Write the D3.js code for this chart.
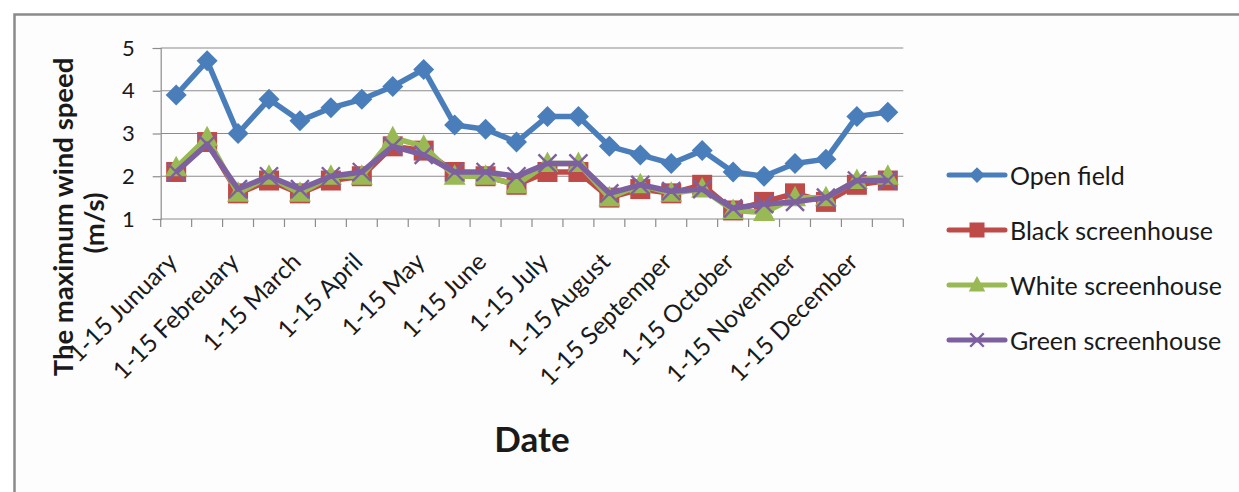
<!DOCTYPE html>
<html>
<head>
<meta charset="utf-8">
<script src="https://cdn.jsdelivr.net/npm/d3@7"></script>
<style>
  html, body { margin: 0; padding: 0; background: #ffffff; }
  svg { display: block; }
  text { font-family: Lato, "Open Sans", sans-serif; fill: #1a1a1a; }
</style>
</head>
<body>
<svg id="chart" width="1239" height="492"></svg>
<script>
// Half-month periods (first and second half of each month)
const categories = [
  "1-15 Junuary", "16-31 Junuary",
  "1-15 Febreuary", "16-28 Febreuary",
  "1-15 March", "16-31 March",
  "1-15 April", "16-30 April",
  "1-15 May", "16-31 May",
  "1-15 June", "16-30 June",
  "1-15 July", "16-31 July",
  "1-15 August", "16-31 August",
  "1-15 Septemper", "16-30 Septemper",
  "1-15 October", "16-31 October",
  "1-15 November", "16-30 November",
  "1-15 December", "16-31 December"
];

// Maximum wind speed (m/s) per period
const openField  = [3.9, 4.7, 3.0, 3.8, 3.3, 3.6, 3.8, 4.1, 4.5, 3.2, 3.1, 2.8, 3.4, 3.4, 2.7, 2.5, 2.3, 2.6, 2.1, 2.0, 2.3, 2.4, 3.4, 3.5];
const blackHouse = [2.1, 2.8, 1.6, 1.9, 1.6, 1.9, 2.0, 2.7, 2.6, 2.1, 2.0, 1.8, 2.1, 2.1, 1.5, 1.7, 1.6, 1.8, 1.2, 1.4, 1.6, 1.4, 1.8, 1.9];
const whiteHouse = [2.2, 2.9, 1.6, 2.0, 1.6, 2.0, 2.0, 2.9, 2.7, 2.0, 2.0, 1.8, 2.3, 2.3, 1.5, 1.8, 1.6, 1.7, 1.2, 1.15, 1.5, 1.5, 1.9, 2.0];
const greenHouse = [2.1, 2.75, 1.7, 2.0, 1.7, 2.0, 2.1, 2.7, 2.5, 2.1, 2.1, 2.0, 2.3, 2.3, 1.6, 1.8, 1.65, 1.7, 1.25, 1.35, 1.4, 1.5, 1.9, 1.9];

const seriesNames = ["Open field", "Black screenhouse", "White screenhouse", "Green screenhouse"];
const yTicks = [1, 2, 3, 4, 5];

const series = [
  { name: seriesNames[0], values: openField,  color: "#4a7ebb", marker: "diamond" },
  { name: seriesNames[1], values: blackHouse, color: "#be4b48", marker: "square" },
  { name: seriesNames[2], values: whiteHouse, color: "#98b954", marker: "triangle" },
  { name: seriesNames[3], values: greenHouse, color: "#7d60a0", marker: "cross" }
];

const svg = d3.select("#chart");

// chart frame
svg.append("rect")
  .attr("x", 14.5).attr("y", 14.5)
  .attr("width", 1300).attr("height", 600)
  .attr("fill", "#fdfdfd")
  .attr("stroke", "#8a8a8a").attr("stroke-width", 2.5);

const plot = { left: 160.7, right: 903.3, top: 48, bottom: 219 };

const x = d3.scaleBand().domain(categories).range([plot.left, plot.right]).padding(0);
const y = d3.scaleLinear().domain([1, 5]).range([plot.bottom, plot.top]);
const cx = c => x(c) + x.bandwidth() / 2;

// horizontal gridlines
svg.append("g").selectAll("line").data(yTicks.slice(1)).join("line")
  .attr("x1", plot.left).attr("x2", plot.right)
  .attr("y1", d => y(d)).attr("y2", d => y(d))
  .attr("stroke", "#8c8c8c").attr("stroke-width", 1.2);

// value axis
const yAxis = svg.append("g")
  .attr("transform", `translate(${plot.left},0)`)
  .call(d3.axisLeft(y).tickValues(yTicks).tickFormat(d3.format("d")).tickSize(8).tickPadding(18));
yAxis.select(".domain").attr("stroke", "#8c8c8c").attr("stroke-width", 1.2);
yAxis.selectAll(".tick line").attr("stroke", "#8c8c8c").attr("stroke-width", 1.2);
yAxis.selectAll(".tick text")
  .attr("font-size", 22).attr("font-family", "Lato, sans-serif").attr("fill", "#1a1a1a");

// category axis with ticks between periods
const edges = categories.map(c => x(c)).concat([x.range()[1]]);
const xAxis = svg.append("g");
xAxis.append("line")
  .attr("x1", plot.left).attr("x2", plot.right)
  .attr("y1", plot.bottom).attr("y2", plot.bottom)
  .attr("stroke", "#8c8c8c").attr("stroke-width", 1.2);
xAxis.selectAll("line.tick").data(edges).join("line")
  .attr("class", "tick")
  .attr("x1", d => d).attr("x2", d => d)
  .attr("y1", plot.bottom).attr("y2", plot.bottom + 8)
  .attr("stroke", "#8c8c8c").attr("stroke-width", 1.2);

// category labels on every other period
xAxis.selectAll("text").data(categories.filter((c, i) => i % 2 === 0)).join("text")
  .attr("transform", d => `translate(${cx(d) - 2},${plot.bottom + 40}) rotate(-45)`)
  .attr("text-anchor", "end")
  .attr("dominant-baseline", "middle")
  .attr("font-size", 24.5)
  .text(d => d);

// axis titles
const yTitle = svg.append("g").attr("font-weight", "bold").attr("text-anchor", "middle");
yTitle.append("text")
  .attr("transform", "translate(73,217) rotate(-90)")
  .attr("font-size", 27.5)
  .text("The maximum wind speed");
yTitle.append("text")
  .attr("transform", "translate(104,223) rotate(-90)")
  .attr("font-size", 27.5)
  .text("(m/s)");

svg.append("text")
  .attr("x", 532).attr("y", 452)
  .attr("text-anchor", "middle")
  .attr("font-weight", "bold")
  .attr("font-size", 35)
  .text("Date");

// marker shapes
function drawMarker(g, type, color, k = 1) {
  if (type === "diamond") {
    g.append("path").attr("d", `M0,${-10.5 * k}L${10.5 * k},0L0,${10.5 * k}L${-10.5 * k},0Z`).attr("fill", color);
  } else if (type === "square") {
    g.append("rect").attr("x", -10 * k).attr("y", -10 * k).attr("width", 20 * k).attr("height", 20 * k).attr("fill", color);
  } else if (type === "triangle") {
    g.append("path").attr("d", `M0,${-12 * k}L${11 * k},${8.5 * k}L${-11 * k},${8.5 * k}Z`).attr("fill", color);
  } else {
    g.append("path").attr("d", `M${-9 * k},${-9 * k}L${9 * k},${9 * k}M${-9 * k},${9 * k}L${9 * k},${-9 * k}`)
      .attr("stroke", color).attr("stroke-width", 2.4).attr("fill", "none");
  }
}

const line = d3.line().x((d, i) => cx(categories[i])).y(d => y(d));

series.forEach(s => {
  const g = svg.append("g");
  g.append("path")
    .attr("d", line(s.values))
    .attr("fill", "none")
    .attr("stroke", s.color)
    .attr("stroke-width", 5.5)
    .attr("stroke-linejoin", "round");
  s.values.forEach((v, i) => {
    const m = g.append("g").attr("transform", `translate(${cx(categories[i])},${y(v)})`);
    drawMarker(m, s.marker, s.color);
  });
});

// legend
const legend = svg.append("g");
series.forEach((s, i) => {
  const ly = 175 + i * 55;
  const row = legend.append("g").attr("transform", `translate(0,${ly})`);
  row.append("line").attr("x1", 949).attr("x2", 1005).attr("y1", 0).attr("y2", 0)
    .attr("stroke", s.color).attr("stroke-width", 5).attr("stroke-linecap", "round");
  const m = row.append("g").attr("transform", "translate(977,0)");
  drawMarker(m, s.marker, s.color, 0.75);
  row.append("text")
    .attr("x", 1010).attr("y", 0)
    .attr("dominant-baseline", "central")
    .attr("font-size", 25)
    .text(s.name);
});
</script>
</body>
</html>
